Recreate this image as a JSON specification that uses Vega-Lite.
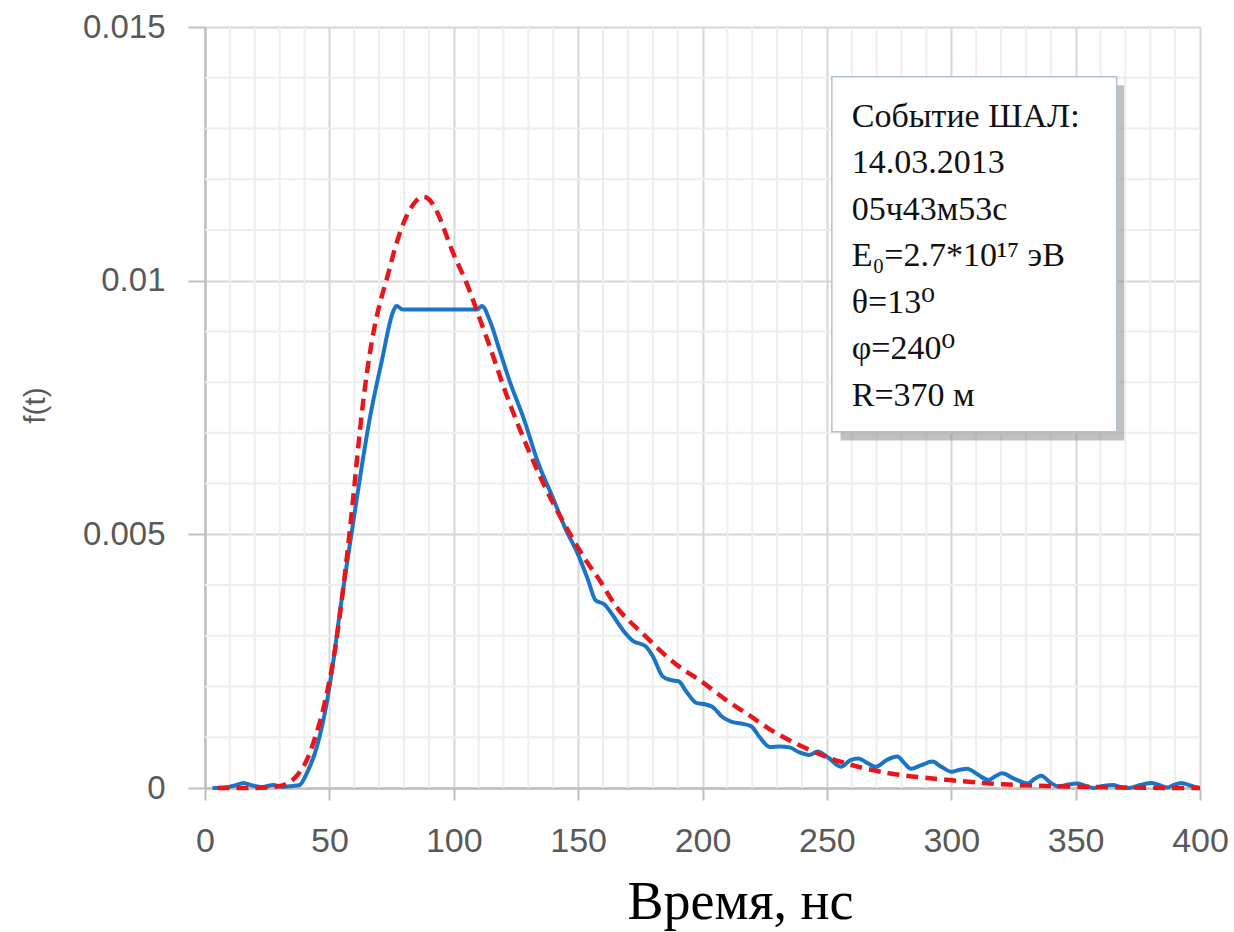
{
  "$schema": "https://vega.github.io/schema/vega-lite/v6.json",
  "autosize": "none",
  "width": 995,
  "height": 761,
  "padding": {"left": 205, "top": 27, "right": 34, "bottom": 144},
  "background": "white",
  "config": {"view": {"stroke": null}},
  "datasets": {
    "gridx": [
      {"t": 10}, {"t": 20}, {"t": 30}, {"t": 40}, {"t": 60}, {"t": 70}, {"t": 80}, {"t": 90},
      {"t": 110}, {"t": 120}, {"t": 130}, {"t": 140}, {"t": 160}, {"t": 170}, {"t": 180}, {"t": 190},
      {"t": 210}, {"t": 220}, {"t": 230}, {"t": 240}, {"t": 260}, {"t": 270}, {"t": 280}, {"t": 290},
      {"t": 310}, {"t": 320}, {"t": 330}, {"t": 340}, {"t": 360}, {"t": 370}, {"t": 380}, {"t": 390}
    ],
    "gridy": [
      {"v": 0.001}, {"v": 0.002}, {"v": 0.003}, {"v": 0.004}, {"v": 0.006}, {"v": 0.007}, {"v": 0.008},
      {"v": 0.009}, {"v": 0.011}, {"v": 0.012}, {"v": 0.013}, {"v": 0.014}
    ],
    "measured": [
      {"t": 3, "v": 0}, {"t": 8, "v": 0.00001}, {"t": 12, "v": 0.00005}, {"t": 15.5, "v": 0.0001}, {"t": 19, "v": 0.00005},
      {"t": 23, "v": 0.00002}, {"t": 27.5, "v": 0.00006}, {"t": 31, "v": 0.00002}, {"t": 35, "v": 0.00004}, {"t": 38, "v": 0.00006},
      {"t": 41, "v": 0.0003}, {"t": 44.9, "v": 0.0008}, {"t": 48.9, "v": 0.00167}, {"t": 51.6, "v": 0.0025}, {"t": 54.3, "v": 0.0035},
      {"t": 57, "v": 0.0044}, {"t": 61, "v": 0.0057}, {"t": 66.3, "v": 0.0073}, {"t": 71, "v": 0.0084}, {"t": 75.7, "v": 0.0094},
      {"t": 77, "v": 0.0095}, {"t": 79.5, "v": 0.00943}, {"t": 90, "v": 0.00943}, {"t": 100, "v": 0.00943}, {"t": 109.5, "v": 0.00943},
      {"t": 111.3, "v": 0.0095}, {"t": 114.6, "v": 0.0092}, {"t": 118.6, "v": 0.0086}, {"t": 122.6, "v": 0.008}, {"t": 128, "v": 0.0073},
      {"t": 134, "v": 0.0064}, {"t": 140, "v": 0.0057}, {"t": 145, "v": 0.0051}, {"t": 150, "v": 0.0046}, {"t": 154, "v": 0.0041},
      {"t": 157, "v": 0.0037}, {"t": 160.5, "v": 0.00362}, {"t": 164, "v": 0.0034}, {"t": 168.2, "v": 0.0031}, {"t": 172, "v": 0.0029},
      {"t": 177, "v": 0.0028}, {"t": 180, "v": 0.0026}, {"t": 184, "v": 0.0022}, {"t": 187, "v": 0.00213}, {"t": 190.5, "v": 0.0021},
      {"t": 193.5, "v": 0.0019}, {"t": 197.5, "v": 0.00168}, {"t": 201, "v": 0.00165}, {"t": 204, "v": 0.0016}, {"t": 208, "v": 0.0014},
      {"t": 211.5, "v": 0.00131}, {"t": 215.5, "v": 0.00127}, {"t": 219.5, "v": 0.00122}, {"t": 223, "v": 0.001}, {"t": 227, "v": 0.00081},
      {"t": 231, "v": 0.00082}, {"t": 235, "v": 0.0008}, {"t": 239, "v": 0.0007}, {"t": 243, "v": 0.00065}, {"t": 246.3, "v": 0.00072},
      {"t": 250.5, "v": 0.0006}, {"t": 255.7, "v": 0.00042}, {"t": 259.5, "v": 0.00055}, {"t": 262.7, "v": 0.00058}, {"t": 266, "v": 0.0005},
      {"t": 269.7, "v": 0.00042}, {"t": 274, "v": 0.00055}, {"t": 278.3, "v": 0.00062}, {"t": 281, "v": 0.0005}, {"t": 283.8, "v": 0.00038},
      {"t": 288, "v": 0.00045}, {"t": 292.4, "v": 0.00052}, {"t": 296, "v": 0.00042}, {"t": 300.2, "v": 0.00032}, {"t": 303.5, "v": 0.00036},
      {"t": 306.4, "v": 0.00038}, {"t": 310.5, "v": 0.00027}, {"t": 315, "v": 0.00016}, {"t": 318, "v": 0.00024}, {"t": 320.5, "v": 0.00029},
      {"t": 325, "v": 0.00019}, {"t": 330.7, "v": 0.00009}, {"t": 333.5, "v": 0.00018}, {"t": 336.1, "v": 0.00024}, {"t": 340, "v": 0.0001},
      {"t": 343.2, "v": 0.00003}, {"t": 347, "v": 0.00007}, {"t": 351, "v": 0.00009}, {"t": 354, "v": 0.00004}, {"t": 357.2, "v": 0},
      {"t": 361, "v": 0.00004}, {"t": 365, "v": 0.00006}, {"t": 368, "v": 0.00002}, {"t": 371.3, "v": 0}, {"t": 376, "v": 0.00006},
      {"t": 380.7, "v": 0.0001}, {"t": 384, "v": 0.00005}, {"t": 386.9, "v": 0.00001}, {"t": 389.5, "v": 0.00006}, {"t": 392.4, "v": 0.0001},
      {"t": 396, "v": 0.00005}, {"t": 399.5, "v": 0}
    ],
    "fit": [
      {"t": 5, "v": 0}, {"t": 10, "v": 0}, {"t": 15, "v": 0}, {"t": 20, "v": 0}, {"t": 25, "v": 0.00001},
      {"t": 30, "v": 0.00003}, {"t": 33, "v": 0.00008}, {"t": 35.5, "v": 0.00016}, {"t": 38, "v": 0.0003}, {"t": 40, "v": 0.00045},
      {"t": 42.2, "v": 0.00068}, {"t": 45, "v": 0.0011}, {"t": 47.6, "v": 0.00154}, {"t": 50, "v": 0.0021}, {"t": 51.6, "v": 0.0025},
      {"t": 54, "v": 0.0033}, {"t": 57, "v": 0.0045}, {"t": 60, "v": 0.0059}, {"t": 62.3, "v": 0.0071}, {"t": 65, "v": 0.0082},
      {"t": 68, "v": 0.0091}, {"t": 71, "v": 0.0097}, {"t": 73, "v": 0.01}, {"t": 76, "v": 0.0106}, {"t": 80, "v": 0.0112},
      {"t": 84, "v": 0.01155}, {"t": 87.6, "v": 0.0117}, {"t": 91, "v": 0.01158}, {"t": 94, "v": 0.0113}, {"t": 97.2, "v": 0.01087},
      {"t": 100, "v": 0.0105}, {"t": 103, "v": 0.0102}, {"t": 106.5, "v": 0.0098}, {"t": 110, "v": 0.0093}, {"t": 114.6, "v": 0.0087},
      {"t": 118.6, "v": 0.0081}, {"t": 123, "v": 0.0075}, {"t": 128, "v": 0.0069}, {"t": 134, "v": 0.0062}, {"t": 141, "v": 0.0055},
      {"t": 148, "v": 0.0049}, {"t": 154, "v": 0.0044}, {"t": 159, "v": 0.0041}, {"t": 165.5, "v": 0.0035}, {"t": 175, "v": 0.0031},
      {"t": 185, "v": 0.0026}, {"t": 193, "v": 0.0023}, {"t": 200, "v": 0.0021}, {"t": 210, "v": 0.0017}, {"t": 218, "v": 0.00147},
      {"t": 226, "v": 0.00118}, {"t": 235, "v": 0.00093}, {"t": 246, "v": 0.00068}, {"t": 255, "v": 0.00052}, {"t": 265, "v": 0.00038},
      {"t": 280, "v": 0.00024}, {"t": 299, "v": 0.00016}, {"t": 320, "v": 0.00006}, {"t": 346, "v": 0.00003}, {"t": 370, "v": 0.00001},
      {"t": 385, "v": 0}, {"t": 400, "v": 0}
    ],
    "box": [{"label": "event"}]
  },
  "layer": [
    {
      "data": {"name": "gridx"},
      "mark": {"type": "rule", "color": "#eeeeee", "strokeWidth": 2},
      "encoding": {"x": {"field": "t", "type": "quantitative"}}
    },
    {
      "data": {"name": "gridy"},
      "mark": {"type": "rule", "color": "#eeeeee", "strokeWidth": 2},
      "encoding": {"y": {"field": "v", "type": "quantitative"}}
    },
    {
      "data": {"name": "measured"},
      "mark": {"type": "line", "color": "#1a74c8", "strokeWidth": 4, "interpolate": "monotone"},
      "encoding": {
        "x": {
          "field": "t", "type": "quantitative",
          "scale": {"domain": [0, 400], "nice": false},
          "axis": {
            "values": [0, 50, 100, 150, 200, 250, 300, 350, 400],
            "format": "d",
            "labelOverlap": false,
            "labelFlush": false,
            "labelBound": false,
            "grid": true,
            "gridColor": "#d6d6d6",
            "gridWidth": 2,
            "tickSize": 12,
            "tickWidth": 2,
            "tickColor": "#bfbfbf",
            "domainColor": "#bfbfbf",
            "domainWidth": 2.5,
            "labelFont": "Liberation Sans",
            "labelFontSize": 34,
            "labelColor": "#595959",
            "labelPadding": 24,
            "title": "Время, нс",
            "titleFont": "Liberation Serif",
            "titleFontSize": 54,
            "titleFontWeight": "normal",
            "titleColor": "#000000",
            "titleX": 535,
            "titleY": 130,
            "titleAlign": "center",
            "titleBaseline": "alphabetic"
          }
        },
        "y": {
          "field": "v", "type": "quantitative",
          "scale": {"domain": [0, 0.015], "nice": false},
          "axis": {
            "values": [0, 0.005, 0.01, 0.015],
            "format": "~g",
            "labelOverlap": false,
            "labelFlush": false,
            "labelBound": false,
            "grid": true,
            "gridColor": "#d6d6d6",
            "gridWidth": 2,
            "tickSize": 17,
            "tickWidth": 2,
            "tickColor": "#bfbfbf",
            "domainColor": "#bfbfbf",
            "domainWidth": 2.5,
            "labelFont": "Liberation Sans",
            "labelFontSize": 33,
            "labelColor": "#595959",
            "labelPadding": 23,
            "title": "f(t)",
            "titleFont": "Liberation Sans",
            "titleFontSize": 30,
            "titleFontWeight": "normal",
            "titleColor": "#595959",
            "titleAngle": -90,
            "titleX": -170,
            "titleY": 378,
            "titleAlign": "center",
            "titleBaseline": "middle"
          }
        }
      }
    },
    {
      "data": {"name": "fit"},
      "mark": {"type": "line", "color": "#e8161b", "strokeWidth": 4.5, "strokeDash": [12, 7], "interpolate": "basis"},
      "encoding": {
        "x": {"field": "t", "type": "quantitative"},
        "y": {"field": "v", "type": "quantitative"}
      }
    },
    {
      "data": {"name": "box"},
      "mark": {"type": "rect", "color": "#8c8c8c", "opacity": 0.55},
      "encoding": {
        "x": {"datum": 255.5, "type": "quantitative"},
        "x2": {"datum": 369.5},
        "y": {"datum": 0.01385, "type": "quantitative"},
        "y2": {"datum": 0.00685}
      }
    },
    {
      "data": {"name": "box"},
      "mark": {"type": "rect", "fill": "white", "stroke": "#b4c0cc", "strokeWidth": 1.5},
      "encoding": {
        "x": {"datum": 252, "type": "quantitative"},
        "x2": {"datum": 366.5},
        "y": {"datum": 0.01402, "type": "quantitative"},
        "y2": {"datum": 0.00702}
      }
    },
    {
      "data": {"name": "box"},
      "mark": {
        "type": "text",
        "text": ["Событие ШАЛ:", "14.03.2013", "05ч43м53с", "E₀=2.7*10¹⁷ эВ", "θ=13⁰", "φ=240⁰", "R=370 м"],
        "font": "Liberation Serif, DejaVu Serif, serif",
        "fontSize": 34,
        "lineHeight": 46.5,
        "align": "left",
        "baseline": "alphabetic",
        "color": "#111111"
      },
      "encoding": {
        "x": {"datum": 260, "type": "quantitative"},
        "y": {"datum": 0.013035, "type": "quantitative"}
      }
    }
  ]
}
